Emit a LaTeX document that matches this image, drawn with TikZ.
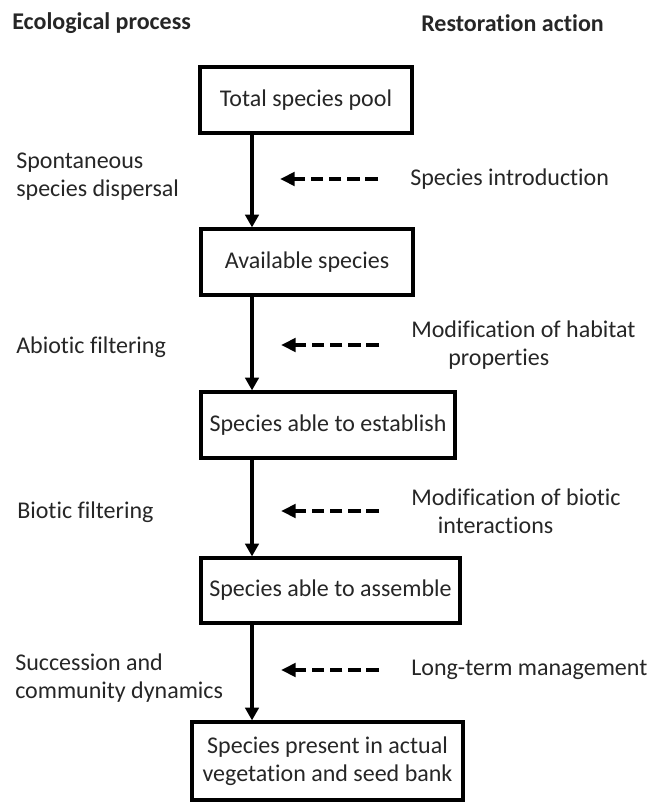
\documentclass[tikz,border=0pt]{standalone}
\usepackage{fontspec}
\setmainfont{Carlito}[Ligatures=NoCommon]
\usepackage{tikz}
\usetikzlibrary{arrows.meta}

\definecolor{inkgray}{RGB}{38,38,38}

\begin{document}
\begin{tikzpicture}[x=0.75pt,y=0.75pt,yscale=-1,xscale=1,
  every node/.style={font=\fontsize{18}{21}\selectfont, text=inkgray},
  stagebox/.style={draw=black, line width=2.4pt, inner sep=2pt, align=center},
  sidelabel/.style={inner sep=0pt, anchor=west, align=left},
  headlabel/.style={sidelabel, font=\fontsize{18}{21}\selectfont\bfseries},
  flow/.style={line width=2.4pt, -{Triangle[length=9.5pt,width=10pt]}},
  action/.style={line width=3.5pt, dash pattern=on 9.4pt off 4.3pt, -{Triangle[length=11pt,width=10pt]}}]
\useasboundingbox (0,0) rectangle (648,802);

% Text Node
\node[headlabel] (ecohead) at (12,23) {Ecological process};
% Text Node
\node[headlabel] (resthead) at (421,23) {Restoration action};

%Shape: Rectangle
\node[stagebox, minimum width=159pt, minimum height=49.5pt] (pool) at (306,100) {Total species pool};
%Shape: Rectangle
\node[stagebox, minimum width=159pt, minimum height=49.5pt] (avail) at (307,262) {Available species};
%Shape: Rectangle
\node[stagebox, minimum width=190.5pt, minimum height=49.5pt] (establ) at (328,425) {Species able to establish};
%Shape: Rectangle
\node[stagebox, minimum width=194.25pt, minimum height=48.75pt] (assem) at (330.5,590.5) {Species able to assemble};
%Shape: Rectangle
\node[stagebox, minimum width=203.25pt, minimum height=58.5pt] (present) at (327.5,761) {Species present in actual\\vegetation and seed bank};

% Text Node
\node[sidelabel] (dispersal) at (16,177) {Spontaneous\\species dispersal};
% Text Node
\node[sidelabel] (abiotic) at (16,347) {Abiotic filtering};
% Text Node
\node[sidelabel] (biotic) at (17,512) {Biotic filtering};
% Text Node
\node[sidelabel] (succession) at (15,678) {Succession and\\community dynamics};

% Text Node
\node[sidelabel] (intro) at (410,179) {Species introduction};
% Text Node
\node[sidelabel] (habitat) at (411,345) {Modification of habitat\\\hspace*{27.75pt}properties};
% Text Node
\node[sidelabel] (interact) at (411,511) {Modification of biotic\\\hspace*{20pt}interactions};
% Text Node
\node[sidelabel] (manage) at (411,670) {Long-term management};

%Straight Lines
\coordinate (spine) at (252,0);
\draw[flow] (spine |- pool.south) -- (spine |- avail.north);
\draw[flow] (spine |- avail.south) -- (spine |- establ.north);
\draw[flow] (spine |- establ.south) -- (spine |- assem.north);
\draw[flow] (spine |- assem.south) -- (spine |- present.north);

%Dashed Lines
\draw[action] ([xshift=-24pt]intro.west) -- ++(-98,0);
\draw[action] ([xshift=-24pt]habitat.west) -- ++(-98,0);
\draw[action] ([xshift=-24pt]interact.west) -- ++(-98,0);
\draw[action] ([xshift=-24pt]manage.west) -- ++(-98,0);

\end{tikzpicture}
\end{document}
